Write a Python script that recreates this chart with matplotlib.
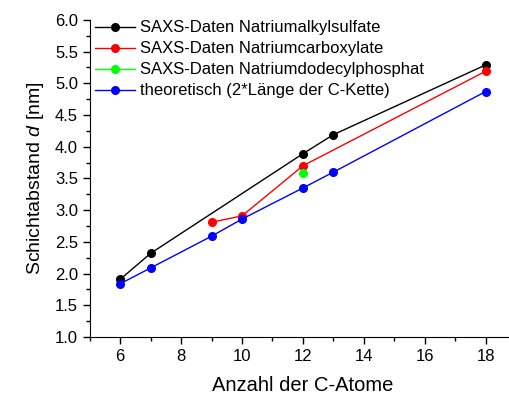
#!/usr/bin/env python3
""" SAXS Schichtabstand """
import matplotlib
matplotlib.use('Agg')
import matplotlib.pyplot as plt
from matplotlib.ticker import MultipleLocator

plt.rcParams['font.family'] = ['Liberation Sans', 'DejaVu Sans']
plt.rcParams['mathtext.fontset'] = 'custom'
plt.rcParams['mathtext.it'] = 'Liberation Sans:italic'
plt.rcParams['mathtext.rm'] = 'Liberation Sans'

# Daten
x_sulfat = [6, 7, 12, 13, 18]
y_sulfat = [1.91, 2.32, 3.89, 4.19, 5.29]
x_carboxylat = [9, 10, 12, 18]
y_carboxylat = [2.81, 2.91, 3.70, 5.19]
x_phosphat = [12]
y_phosphat = [3.59]
x_theo = [6, 7, 9, 10, 12, 13, 18]
y_theo = [1.84, 2.09, 2.59, 2.86, 3.35, 3.60, 4.87]

labels = ['SAXS-Daten Natriumalkylsulfate',
          'SAXS-Daten Natriumcarboxylate',
          'SAXS-Daten Natriumdodecylphosphat',
          'theoretisch (2*Länge der C-Kette)']


def plot():
    """ plot """
    fig = plt.figure(figsize=(5.1, 3.97), dpi=100)
    ax = fig.add_axes([0.176, 0.151, 0.836, 0.799])
    kw = dict(marker='o', markersize=5.5, linewidth=1)
    ax.plot(x_sulfat, y_sulfat, color='black', label=labels[0], **kw)
    ax.plot(x_carboxylat, y_carboxylat, color='#ff0000', label=labels[1], **kw)
    ax.plot(x_phosphat, y_phosphat, color='#00ff00', label=labels[2], **kw)
    ax.plot(x_theo, y_theo, color='#0000ff', label=labels[3], **kw)

    ax.set_xlim(5, 19)
    ax.set_ylim(1.0, 6.0)
    ax.xaxis.set_major_locator(MultipleLocator(2))
    ax.xaxis.set_minor_locator(MultipleLocator(1))
    ax.yaxis.set_major_locator(MultipleLocator(0.5))
    ax.yaxis.set_minor_locator(MultipleLocator(0.25))
    ax.yaxis.set_major_formatter(plt.FormatStrFormatter('%.1f'))
    ax.tick_params(which='major', direction='out', length=5, width=1,
                   labelsize=12)
    ax.tick_params(which='minor', direction='out', length=3, width=1)
    ax.spines['top'].set_visible(False)
    ax.spines['right'].set_visible(False)

    ax.set_xlabel('Anzahl der C-Atome', fontsize=14.5, labelpad=9)
    ax.set_ylabel('Schichtabstand $\\it{d}$ [nm]', fontsize=14, labelpad=6)

    ax.legend(loc='upper left', bbox_to_anchor=(0.012, 0.998), frameon=False,
              fontsize=12, handlelength=2.4, handletextpad=0.3,
              labelspacing=0.36, borderaxespad=0, borderpad=0)

    fig.savefig('out.png', dpi=100)


plot()
